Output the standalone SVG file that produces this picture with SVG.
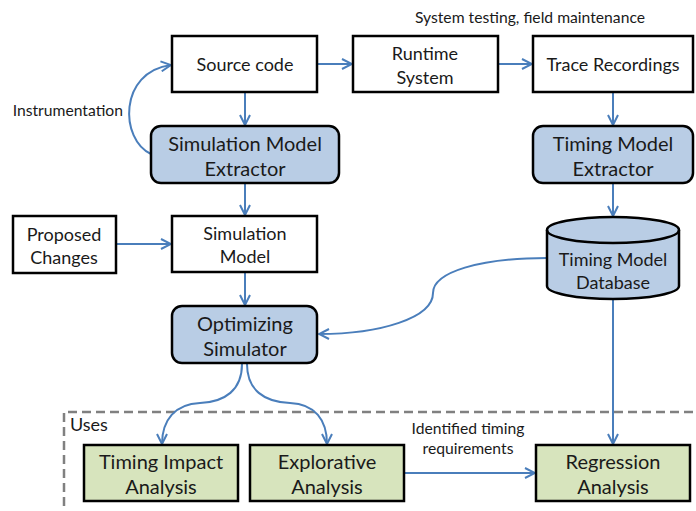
<svg xmlns="http://www.w3.org/2000/svg" width="696" height="511" viewBox="0 0 696 511">
  <style>
    text { font-family: Lato, "Open Sans", "Liberation Sans", sans-serif; fill: #1a1a1a; text-anchor: middle; dominant-baseline: central; }
    .plain { fill: #ffffff; stroke: #000; stroke-width: 2.5; }
    .tool { fill: #b9cde5; stroke: #000; stroke-width: 2.5; }
    .use { fill: #d7e4bd; stroke: #000; stroke-width: 2.5; }
    .lbl { font-size: 18px; }
    .big { font-size: 20px; }
    .note { font-size: 15.7px; }
    .conn { fill: none; stroke: #4a7ebb; stroke-width: 2; marker-end: url(#arr); }
  </style>
  <defs>
    <marker id="arr" viewBox="0 0 12 12" refX="11" refY="6" markerWidth="12" markerHeight="12" markerUnits="userSpaceOnUse" orient="auto">
      <path d="M1,1 L11,6 L1,11" fill="none" stroke="#4a7ebb" stroke-width="2"/>
    </marker>
  </defs>

  <!-- usage boundary -->
  <path d="M64,520 L64,412 L700,412" fill="none" stroke="#808080" stroke-width="2.5" stroke-dasharray="9,5"/>
  <text x="70" y="424" style="font-size:18px;text-anchor:start">Uses</text>

  <text class="note" x="530" y="17">System testing, field maintenance</text>
  <text class="note" x="123" y="110" style="text-anchor:end">Instrumentation</text>
  <text class="note" x="468" y="428">Identified timing</text>
  <text class="note" x="468" y="448">requirements</text>

  <g id="connectors">
    <path class="conn" d="M317,64 L352,64"/>
    <path class="conn" d="M498,64 L532,64"/>
    <path class="conn" d="M245,92 L245,125"/>
    <path class="conn" d="M245,183 L245,215"/>
    <path class="conn" d="M116,244 L171,244"/>
    <path class="conn" d="M245,272 L245,305"/>
    <path class="conn" d="M613,92 L613,125"/>
    <path class="conn" d="M613,183 L613,216"/>
    <path class="conn" d="M613,299 L613,444"/>
    <path class="conn" d="M404,473 L535,473"/>
    <path class="conn" d="M151,154 C120,140 118,72 171,65"/>
    <path class="conn" d="M547,258 C480,258 433,272 433,293 C433,318 380,334 319,334"/>
    <path class="conn" d="M242,364 C242,390 225,402 200,403 C175,404 162,420 162,444"/>
    <path class="conn" d="M247,364 C247,390 264,402 290,403 C315,404 327,420 327,444"/>
  </g>

  <g id="source-code">
    <rect class="plain" x="172" y="36" width="145" height="56"/>
    <text class="lbl" x="245" y="64">Source code</text>
  </g>
  <g id="runtime-system">
    <rect class="plain" x="353" y="36" width="145" height="56"/>
    <text class="lbl" x="425" y="53">Runtime</text>
    <text class="lbl" x="425" y="77">System</text>
  </g>
  <g id="trace-recordings">
    <rect class="plain" x="533" y="36" width="160" height="56"/>
    <text class="lbl" x="613" y="64">Trace Recordings</text>
  </g>
  <g id="simulation-model-extractor">
    <rect class="tool" x="151" y="126" width="188" height="57" rx="10"/>
    <text class="big" x="245" y="143">Simulation Model</text>
    <text class="big" x="245" y="168">Extractor</text>
  </g>
  <g id="timing-model-extractor">
    <rect class="tool" x="533" y="126" width="160" height="57" rx="10"/>
    <text class="big" x="613" y="143">Timing Model</text>
    <text class="big" x="613" y="168">Extractor</text>
  </g>
  <g id="proposed-changes">
    <rect class="plain" x="13" y="216" width="103" height="57"/>
    <text class="lbl" x="64" y="234">Proposed</text>
    <text class="lbl" x="64" y="257">Changes</text>
  </g>
  <g id="simulation-model">
    <rect class="plain" x="172" y="216" width="145" height="56"/>
    <text class="lbl" x="245" y="233">Simulation</text>
    <text class="lbl" x="245" y="256">Model</text>
  </g>
  <g id="timing-model-database">
    <path class="tool" d="M547,230 L547,286 A66,13 0 0 0 679,286 L679,230 A66,13 0 0 0 547,230 Z"/>
    <path d="M547,230 A66,13 0 0 0 679,230" fill="none" stroke="#000" stroke-width="2.5"/>
    <text class="lbl" x="613" y="259">Timing Model</text>
    <text class="lbl" x="613" y="282">Database</text>
  </g>
  <g id="optimizing-simulator">
    <rect class="tool" x="172" y="306" width="145" height="57" rx="10"/>
    <text class="big" x="245" y="323">Optimizing</text>
    <text class="big" x="245" y="348">Simulator</text>
  </g>
  <g id="timing-impact-analysis">
    <rect class="use" x="84" y="445" width="154" height="56"/>
    <text class="big" x="161" y="461">Timing Impact</text>
    <text class="big" x="161" y="486">Analysis</text>
  </g>
  <g id="explorative-analysis">
    <rect class="use" x="250" y="445" width="154" height="56"/>
    <text class="big" x="327" y="461">Explorative</text>
    <text class="big" x="327" y="486">Analysis</text>
  </g>
  <g id="regression-analysis">
    <rect class="use" x="536" y="445" width="154" height="56"/>
    <text class="big" x="613" y="461">Regression</text>
    <text class="big" x="613" y="486">Analysis</text>
  </g>
</svg>
